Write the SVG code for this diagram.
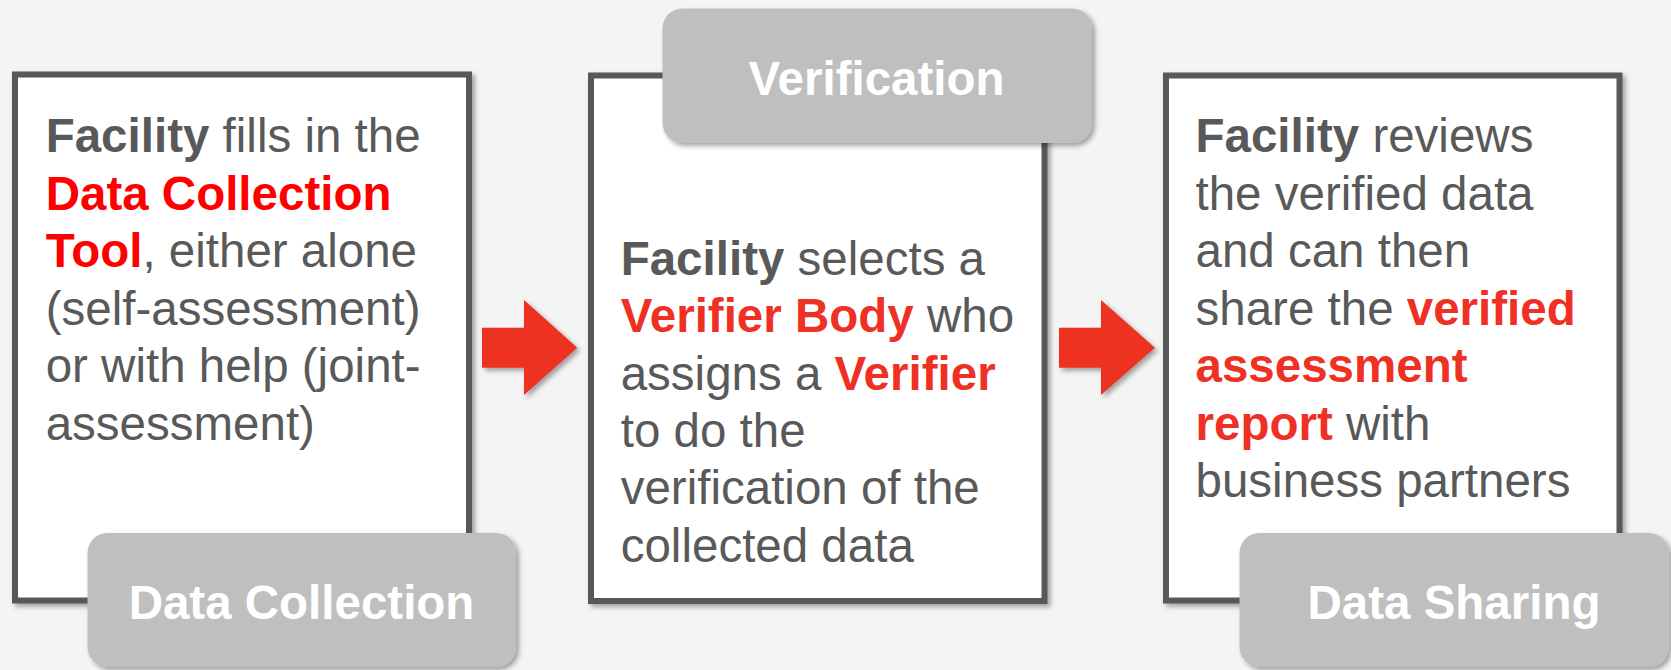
<svg xmlns="http://www.w3.org/2000/svg" width="1671" height="670" viewBox="0 0 1671 670">
<defs>
<filter id="sh" x="-10%" y="-10%" width="125%" height="125%">
<feDropShadow dx="3" dy="3" stdDeviation="2.5" flood-color="#000" flood-opacity="0.35"/>
</filter>
<style>
.box{fill:#FFFFFF;stroke:#595959;stroke-width:6;filter:url(#sh)}
.pill{fill:#BFBFBF;filter:url(#sh)}
.body{font-family:"Liberation Sans",Arial,sans-serif;font-size:47.5px;fill:#595959}
.b{font-weight:bold}
.r1{font-weight:bold;fill:#FF0000}
.r2{font-weight:bold;fill:#EE3124}
.lbl{font-family:"Liberation Sans",Arial,sans-serif;font-size:47.5px;font-weight:bold;fill:#FFFFFF;text-anchor:middle}
.arrow{fill:#EE3124;filter:url(#sh)}
</style>
</defs>
<rect x="0" y="0" width="1671" height="670" fill="#F4F4F4"/>
<g id="connectors">
<polygon class="arrow" points="482,327.7 524,327.7 524,300 577.3,347.7 524,395 524,367.7 482,367.7"/>
<polygon class="arrow" points="1059,327.7 1101,327.7 1101,300 1155,347.7 1101,395 1101,367.7 1059,367.7"/>
</g>
<g id="data-collection">
<rect class="box" x="15" y="74.5" width="454" height="526"/>
<text class="body" x="45.7" y="152"><tspan class="b">Facility</tspan> fills in the</text>
<text class="body" x="45.7" y="209.5"><tspan class="r1">Data Collection</tspan></text>
<text class="body" x="45.7" y="267"><tspan class="r1">Tool</tspan>, either alone</text>
<text class="body" x="45.7" y="324.5">(self-assessment)</text>
<text class="body" x="45.7" y="382">or with help (joint-</text>
<text class="body" x="45.7" y="439.5">assessment)</text>
<rect class="pill" x="87.5" y="533" width="428.5" height="134" rx="20" ry="20"/>
<text class="lbl" x="301.5" y="618.5">Data Collection</text>
</g>
<g id="verification">
<rect class="box" x="591" y="75.5" width="453.5" height="525.5"/>
<text class="body" x="620.7" y="275"><tspan class="b">Facility</tspan> selects a</text>
<text class="body" x="620.7" y="332.3"><tspan class="r2">Verifier Body</tspan> who</text>
<text class="body" x="620.7" y="389.6">assigns a <tspan class="r2">Verifier</tspan></text>
<text class="body" x="620.7" y="446.9">to do the</text>
<text class="body" x="620.7" y="504.2">verification of the</text>
<text class="body" x="620.7" y="561.5">collected data</text>
<rect class="pill" x="662.5" y="8.5" width="429.5" height="134.5" rx="20" ry="20"/>
<text class="lbl" x="876.5" y="95">Verification</text>
</g>
<g id="data-sharing">
<rect class="box" x="1166" y="75.5" width="453.5" height="525"/>
<text class="body" x="1195.5" y="152"><tspan class="b">Facility</tspan> reviews</text>
<text class="body" x="1195.5" y="209.5">the verified data</text>
<text class="body" x="1195.5" y="267">and can then</text>
<text class="body" x="1195.5" y="324.5">share the <tspan class="r2">verified</tspan></text>
<text class="body" x="1195.5" y="382"><tspan class="r2">assessment</tspan></text>
<text class="body" x="1195.5" y="439.5"><tspan class="r2">report</tspan> with</text>
<text class="body" x="1195.5" y="497">business partners</text>
<rect class="pill" x="1239.5" y="533" width="429" height="134" rx="20" ry="20"/>
<text class="lbl" x="1454" y="619">Data Sharing</text>
</g>
</svg>
